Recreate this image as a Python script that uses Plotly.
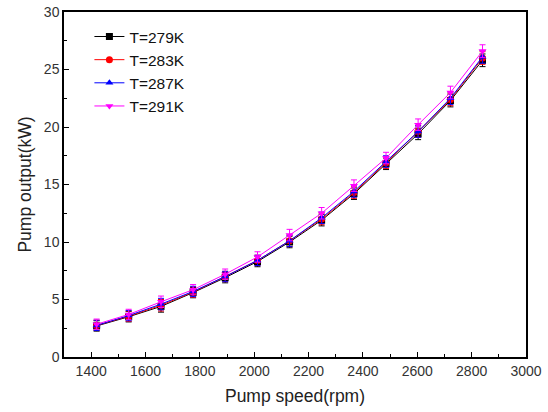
import plotly.graph_objects as go

speed = [1420, 1538, 1657, 1775, 1893, 2012, 2130, 2248, 2367, 2485, 2603, 2722, 2840]
p279 = [2.7, 3.5, 4.4, 5.6, 6.9, 8.3, 10.0, 11.9, 14.2, 16.8, 19.4, 22.3, 25.8]
p283 = [2.75, 3.55, 4.5, 5.65, 7.0, 8.4, 10.1, 12.0, 14.3, 16.9, 19.6, 22.4, 26.0]
p287 = [2.75, 3.6, 4.6, 5.7, 7.0, 8.4, 10.1, 12.1, 14.4, 17.0, 19.6, 22.5, 26.1]
p291 = [2.85, 3.7, 4.8, 5.85, 7.2, 8.7, 10.6, 12.5, 14.9, 17.3, 20.2, 23.0, 26.6]
err = [0.45, 0.45, 0.5, 0.45, 0.45, 0.45, 0.5, 0.5, 0.5, 0.5, 0.5, 0.55, 0.55]
labels = ["T=279K", "T=283K", "T=287K", "T=291K"]
colors = ["#000000", "#ff0000", "#0000ff", "#ff00ff"]
symbols = ["square", "circle", "triangle-up", "triangle-down"]

fig = go.Figure()
for vals, lab, col, sym in zip([p279, p283, p287, p291], labels, colors, symbols):
    fig.add_trace(go.Scatter(
        x=speed, y=vals, name=lab, mode="lines+markers",
        line=dict(color=col, width=1),
        marker=dict(symbol=sym, size=7, color=col),
        error_y=dict(type="data", array=err, color=col, thickness=1, width=3),
    ))

axis_common = dict(
    showline=True, linecolor="black", linewidth=1.5, mirror=True,
    ticks="inside", ticklen=5, tickwidth=1.2, tickcolor="black",
    showgrid=False, zeroline=False, automargin=False,
    tickfont=dict(family="Liberation Sans, Arial", size=14, color="#333"),
    title_font=dict(family="Liberation Sans, Arial", size=17.5, color="#222"),
)
fig.update_xaxes(range=[1300, 3000], dtick=200, tick0=1400,
                 minor=dict(ticks="inside", ticklen=3, dtick=100, tick0=1300, tickcolor="black"),
                 title_text="Pump speed(rpm)", title_standoff=12, **axis_common)
fig.update_yaxes(range=[0, 30], dtick=5,
                 minor=dict(ticks="inside", ticklen=3, dtick=2.5, tickcolor="black"),
                 title_text="Pump output(kW)", title_standoff=8, **axis_common)
fig.update_layout(
    width=548, height=412,
    margin=dict(l=64, r=22, t=12, b=55),
    plot_bgcolor="white", paper_bgcolor="white",
    legend=dict(x=0.055, y=0.977, xanchor="left", yanchor="top",
                font=dict(family="Liberation Sans, Arial", size=15.5, color="#111"),
                tracegroupgap=0, bgcolor="rgba(0,0,0,0)"),
)
fig.write_html("out.html")
